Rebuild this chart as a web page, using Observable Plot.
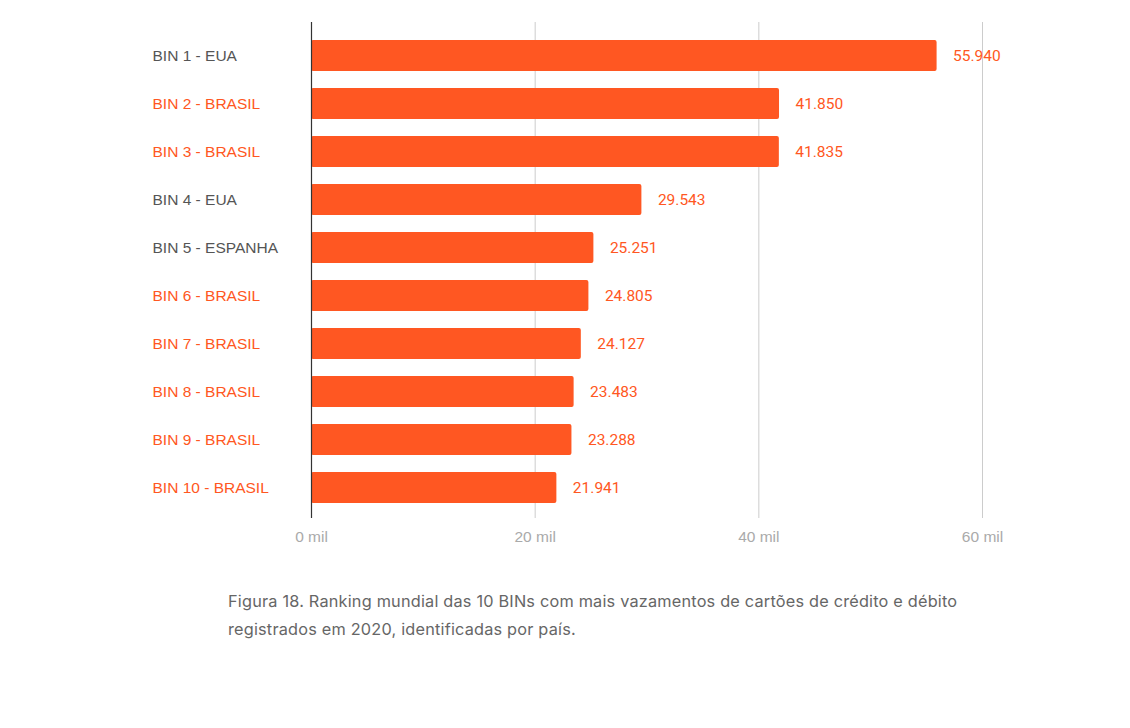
<!DOCTYPE html>
<html>
<head>
<meta charset="utf-8">
<script src="https://cdn.jsdelivr.net/npm/d3@7"></script>
<script src="https://cdn.jsdelivr.net/npm/@observablehq/plot@0.6"></script>
<style>
  html, body { margin: 0; padding: 0; background: #fff; }
  #chart svg { display: block; }
  .caption {
    font-family: Inter, "Noto Sans", sans-serif;
    font-size: 16.3px;
    letter-spacing: 0.2px;
    line-height: 28px;
    color: #666;
    margin: 27px 0 0 228px;
    width: 800px;
  }
</style>
</head>
<body>
<div id="chart"></div>
<div class="caption">Figura 18. Ranking mundial das 10 BINs com mais vazamentos de cartões de crédito e débito<br>registrados em 2020, identificadas por país.</div>
<script>
const bins = ["BIN 1 - EUA", "BIN 2 - BRASIL", "BIN 3 - BRASIL", "BIN 4 - EUA", "BIN 5 - ESPANHA",
              "BIN 6 - BRASIL", "BIN 7 - BRASIL", "BIN 8 - BRASIL", "BIN 9 - BRASIL", "BIN 10 - BRASIL"];
const countries = ["EUA", "BRASIL", "BRASIL", "EUA", "ESPANHA", "BRASIL", "BRASIL", "BRASIL", "BRASIL", "BRASIL"];
const leaks = [55940, 41850, 41835, 29543, 25251, 24805, 24127, 23483, 23288, 21941];
const xTicks = [0, 20000, 40000, 60000];

const data = bins.map((b, i) => ({bin: b, country: countries[i], value: leaks[i]}));
const ptBR = d3.formatLocale({decimal: ",", thousands: ".", grouping: [3], currency: ["R$", ""]});
const fmt = ptBR.format(",d");
const orange = "#ff5722";

const chart = Plot.plot({
  width: 1130,
  height: 560,
  marginLeft: 311,
  marginRight: 148,
  marginTop: 22,
  marginBottom: 42,
  style: {fontFamily: "Roboto, sans-serif", background: "#fff"},
  x: {domain: [0, 60000], ticks: xTicks, label: null},
  y: {domain: bins, label: null, range: [31, 512], paddingInner: 0.355, paddingOuter: 0.1775},
  marks: [
    Plot.ruleX(xTicks.slice(1), {stroke: "#cccccc", strokeWidth: 1}),
    Plot.barX(data, {y: "bin", x: "value", fill: orange, rx: 2}),
    Plot.ruleX([0], {stroke: "#333", strokeWidth: 1.2}),
    Plot.text(data, {
      y: "bin", x: "value", text: d => fmt(d.value),
      dx: 16, textAnchor: "start", fill: orange,
      fontSize: 15.5, fontFamily: "Roboto, sans-serif"
    }),
    Plot.text(data, {
      y: "bin", frameAnchor: "left", dx: -159, textAnchor: "start",
      text: "bin",
      fill: d => d.country === "BRASIL" ? orange : "#555555",
      fontSize: 15.5, fontFamily: "'Liberation Sans', Arial, sans-serif"
    }),
    Plot.axisX({
      ticks: xTicks, tickSize: 0, tickPadding: 12,
      tickFormat: d => (d / 1000) + " mil",
      fontSize: 15.5, fill: "#aaaaaa", label: null,
      fontFamily: "'Liberation Sans', Arial, sans-serif"
    }),
    Plot.axisY({ticks: [], label: null})
  ]
});
document.getElementById("chart").appendChild(chart);
</script>
</body>
</html>
